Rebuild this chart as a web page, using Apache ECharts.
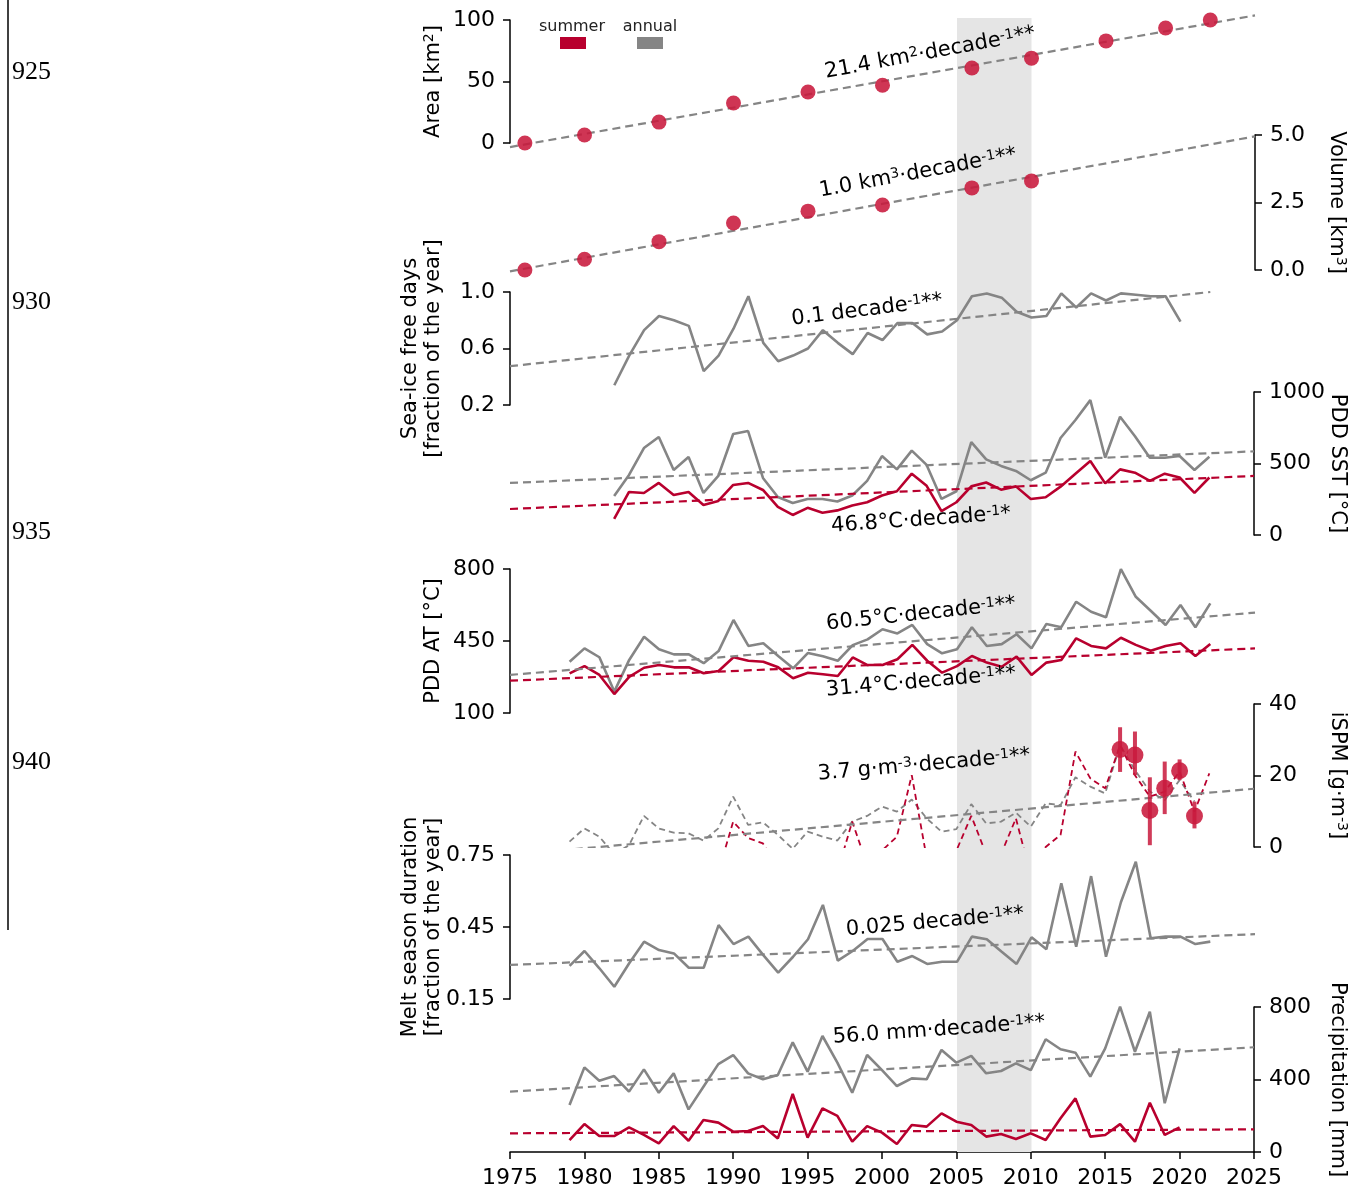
<!DOCTYPE html>
<html>
<head>
<meta charset="utf-8">
<script src="https://cdn.jsdelivr.net/npm/echarts@6/dist/echarts.min.js"></script>
<style>
  html, body { margin: 0; padding: 0; background: #fff; }
  #main { width: 1357px; height: 1194px; }
</style>
</head>
<body>
<div id="main"></div>
<script>
// ---- data ----
const range = (a, b) => Array.from({ length: b - a + 1 }, (_, i) => a + i)

const bandYears = [2005, 2010]
const trendYears = [1975, 2025]

// glacier area / volume (points)
const areaYears = [1976, 1980, 1985, 1990, 1995, 2000, 2006, 2010, 2015, 2019, 2022]
const areaKm2 = [0, 6.5, 17, 32.5, 41.5, 47, 61, 69, 83, 93.5, 100]
const areaTrend = [-3.3, 103.7]
const areaTicks = [0, 50, 100]

const volumeYears = [1976, 1980, 1985, 1990, 1995, 2000, 2006, 2010]
const volumeKm3 = [0.0, 0.4, 1.05, 1.74, 2.18, 2.41, 3.04, 3.3]
const volumeTrend = [-0.05, 4.95]
const volumeTicks = [0, 2.5, 5]

// sea-ice free days
const seaIceYears = range(1982, 2020)
const seaIceFrac = [0.34, 0.55, 0.73, 0.83, 0.80, 0.76, 0.44, 0.55, 0.74, 0.97,
  0.64, 0.51, 0.55, 0.60, 0.73, 0.64, 0.56, 0.71, 0.66, 0.78,
  0.78, 0.70, 0.72, 0.80, 0.97, 0.99, 0.96, 0.86, 0.82, 0.83,
  0.99, 0.89, 0.99, 0.94, 0.99, 0.98, 0.97, 0.97, 0.79]
const seaIceTrendYears = [1975, 2022]
const seaIceTrend = [0.475, 1.0]
const seaIceTicks = [0.2, 0.6, 1.0]

// PDD SST
const sstYears = range(1982, 2022)
const sstAnnual = [273, 420, 608, 685, 455, 545, 294, 413, 706, 727,
  399, 266, 224, 252, 252, 234, 276, 379, 552, 459,
  590, 490, 252, 306, 650, 529, 483, 448, 383, 436,
  678, 804, 943, 540, 827, 690, 540, 540, 552, 455, 547]
const sstSummer = [112, 301, 294, 364, 280, 301, 210, 238, 350, 364,
  315, 196, 140, 190, 156, 172, 206, 229, 276, 306,
  429, 344, 167, 229, 340, 367, 317, 340, 252, 264,
  338, 429, 517, 361, 459, 436, 379, 429, 402, 294, 402]
const sstAnnualTrend = [364, 585]
const sstSummerTrend = [182, 413]
const sstTicks = [0, 500, 1000]

// PDD AT
const atYears = range(1979, 2022)
const atAnnual = [349, 414, 371, 204, 358, 471, 410, 385, 385, 342,
  401, 552, 426, 439, 377, 317, 392, 376, 354, 430,
  458, 507, 487, 528, 435, 390, 410, 517, 426, 435,
  483, 414, 533, 517, 641, 592, 565, 799, 665, 597,
  528, 625, 517, 633]
const atSummer = [293, 328, 285, 192, 276, 320, 333, 322, 322, 293,
  304, 371, 354, 349, 322, 269, 296, 288, 280, 370,
  333, 333, 361, 431, 354, 296, 328, 377, 345, 325,
  374, 285, 345, 358, 463, 426, 414, 466, 431, 403,
  426, 439, 377, 435]
const atAnnualTrend = [285, 588]
const atSummerTrend = [257, 414]
const atTicks = [100, 450, 800]

// iSPM
const ispmAnnualYears = range(1979, 2021)
const ispmAnnual = [1.5, 5.2, 2.9, -2, 0.5, 8.7, 5.2, 4.0, 3.8, 1.8,
  5.2, 14.1, 6.2, 6.9, 3.4, -0.5, 4.3, 2.9, 1.8, 7.1,
  8.7, 11.3, 9.9, 13.3, 8.0, 4.3, 5.0, 12.0, 6.6, 7.1,
  9.6, 5.7, 12.2, 11.7, 19.5, 16.9, 15.0, 28.5, 21.5, 15.5,
  13.1, 18.7, 12.7]
const ispmSummerYears = range(1979, 2022)
const ispmSummer = [-6, -4, -8, -10, -5, -3, -6, -7, -8, -9,
  -7, 7.1, 2.5, 1.0, -6, -10, -5, -6, -7, 7.1,
  -5, -1, 2.9, 20.1, -3, -8, -1, 8.7, -2, -2,
  8.0, -8, 0, 3.4, 26.7, 19.2, 16.4, 28.5, 20.1, 14.1,
  15.5, 21.1, 9.9, 20.6]
const ispmObsYears = [2016, 2017, 2018, 2019, 2020, 2021]
const ispmObs = [27.3, 25.7, 10.2, 16.4, 21.3, 8.7]
const ispmObsLow = [21.0, 20.1, 0.5, 9.2, 18.7, 5.2]
const ispmObsHigh = [33.5, 32.3, 19.5, 23.9, 24.5, 12.7]
const ispmTrend = [-2.2, 16.3]
const ispmTicks = [0, 20, 40]

// melt season duration
const meltYears = range(1979, 2022)
const meltFrac = [0.288, 0.35, 0.278, 0.201, 0.299, 0.389, 0.354, 0.34, 0.28, 0.28,
  0.458, 0.379, 0.41, 0.333, 0.26, 0.326, 0.399, 0.542, 0.31, 0.35,
  0.40, 0.40, 0.305, 0.329, 0.296, 0.305, 0.305, 0.41, 0.399, 0.347,
  0.296, 0.407, 0.357, 0.632, 0.368, 0.662, 0.326, 0.553, 0.722, 0.403,
  0.41, 0.41, 0.379, 0.389]
const meltTrend = [0.292, 0.42]
const meltTicks = [0.15, 0.45, 0.75]

// precipitation
const precipYears = range(1979, 2020)
const precipAnnual = [259, 467, 393, 419, 333, 456, 327, 434, 235, 360,
  485, 535, 434, 401, 425, 605, 443, 640, 493, 327,
  535, 452, 364, 406, 401, 563, 493, 530, 434, 447,
  489, 452, 622, 567, 548, 416, 572, 802, 553, 774, 269, 572]
const precipSummer = [66, 154, 88, 88, 136, 94, 48, 143, 62, 177,
  162, 112, 116, 143, 75, 320, 79, 241, 199, 57,
  143, 107, 44, 149, 140, 213, 167, 149, 85, 99,
  72, 103, 66, 186, 296, 85, 94, 154, 57, 272, 94, 136]
const precipAnnualTrend = [333, 578]
const precipSummerTrend = [103, 125]
const precipTicks = [0, 400, 800]

// ---- styling ----
const FONT = 'DejaVu Sans'
const RED = '#b8002e'
const GREY = '#858585'
const DOT = '#c8193c'
const SUP = { fontSize: 14, fontFamily: FONT, color: '#000', fill: '#000', verticalAlign: 'top' }

const pairs = (xs, ys) => xs.map((x, i) => [x, ys[i]])

// grid 0 holds the shaded period, grids 1..8 the stacked panels
const panels = [
  { top: 18, height: 1134 },
  { top: 20, height: 123 },
  { top: 135, height: 135 },
  { top: 292, height: 113 },
  { top: 392, height: 143 },
  { top: 569, height: 144 },
  { top: 704, height: 143 },
  { top: 855, height: 144 },
  { top: 1007, height: 145 },
]

function yAxisFor(gi, pos, min, max, ticks, dec, name, gap) {
  return {
    gridIndex: gi, type: 'value', position: pos, min: min, max: max,
    axisLine: { show: true, lineStyle: { color: '#000', width: 1.5 } },
    axisTick: { show: true, length: 7, lineStyle: { color: '#000', width: 1.5 }, customValues: ticks },
    axisLabel: {
      customValues: ticks, formatter: v => v.toFixed(dec),
      fontSize: 22, color: '#000', fontFamily: FONT, margin: 15
    },
    splitLine: { show: false },
    name: name, nameLocation: 'middle', nameGap: gap, nameMoveOverlap: false,
    nameRotate: pos === 'left' ? 90 : -90,
    nameTextStyle: { fontSize: 21, color: '#000', fontFamily: FONT, lineHeight: 23,
      rich: { s: { fontSize: 14, color: '#000', fontFamily: FONT, verticalAlign: 'top' } } }
  }
}

const yAxes = [
  { gridIndex: 0, type: 'value', min: 0, max: 1, show: false },
  yAxisFor(1, 'left', 0, 100, areaTicks, 0, 'Area [km{s|2}]', 65),
  yAxisFor(2, 'right', 0, 5, volumeTicks, 1, 'Volume [km{s|3}]', 70),
  yAxisFor(3, 'left', 0.2, 1.0, seaIceTicks, 1, 'Sea-ice free days\n[fraction of the year]', 65),
  yAxisFor(4, 'right', 0, 1000, sstTicks, 0, 'PDD SST [°C]', 72),
  yAxisFor(5, 'left', 100, 800, atTicks, 0, 'PDD AT [°C]', 65),
  yAxisFor(6, 'right', 0, 40, ispmTicks, 0, 'iSPM [g·m{s|-3}]', 72),
  yAxisFor(7, 'left', 0.15, 0.75, meltTicks, 2, 'Melt season duration\n[fraction of the year]', 65),
  yAxisFor(8, 'right', 0, 800, precipTicks, 0, 'Precipitation [mm]', 72),
]

const xAxes = panels.map((p, i) => ({
  gridIndex: i, type: 'value', min: 1975, max: 2025, interval: 5,
  show: i === panels.length - 1,
  axisLine: { show: true, lineStyle: { color: '#000', width: 1.5 } },
  axisTick: { show: true, length: 7, lineStyle: { color: '#000', width: 1.5 } },
  axisLabel: { fontSize: 22, color: '#000', fontFamily: FONT, margin: 15, formatter: v => String(v) },
  splitLine: { show: false }
}))

function solid(gi, xs, ys, color) {
  return {
    type: 'line', xAxisIndex: gi, yAxisIndex: gi, data: pairs(xs, ys),
    symbol: 'none', z: 3, lineStyle: { color: color, width: 2.6 }
  }
}
function dashed(gi, xs, ys, color, width, dash, clip) {
  return {
    type: 'line', xAxisIndex: gi, yAxisIndex: gi, data: pairs(xs, ys),
    symbol: 'none', z: 3, clip: clip,
    lineStyle: { color: color, width: width, type: dash }
  }
}
function dots(gi, xs, ys, size) {
  return {
    type: 'scatter', xAxisIndex: gi, yAxisIndex: gi, data: pairs(xs, ys),
    symbolSize: size, clip: false, z: 4,
    itemStyle: { color: DOT, opacity: 0.88 }
  }
}

const series = [
  {
    type: 'line', xAxisIndex: 0, yAxisIndex: 0, data: [[bandYears[0], 0.5]],
    symbol: 'none', silent: true, z: 0, lineStyle: { opacity: 0 },
    markArea: { silent: true, itemStyle: { color: '#e5e5e5' },
      data: [[{ xAxis: bandYears[0] }, { xAxis: bandYears[1] }]] }
  },
  // area
  dashed(1, trendYears, areaTrend, GREY, 2.2, [8, 5], false),
  dots(1, areaYears, areaKm2, 15),
  // volume
  dashed(2, trendYears, volumeTrend, GREY, 2.2, [8, 5], false),
  dots(2, volumeYears, volumeKm3, 15),
  // sea-ice
  solid(3, seaIceYears, seaIceFrac, GREY),
  dashed(3, seaIceTrendYears, seaIceTrend, GREY, 2.2, [8, 5], false),
  // PDD SST
  solid(4, sstYears, sstAnnual, GREY),
  solid(4, sstYears, sstSummer, RED),
  dashed(4, trendYears, sstAnnualTrend, GREY, 2.2, [8, 5], false),
  dashed(4, trendYears, sstSummerTrend, RED, 2.2, [8, 5], false),
  // PDD AT
  solid(5, atYears, atAnnual, GREY),
  solid(5, atYears, atSummer, RED),
  dashed(5, trendYears, atAnnualTrend, GREY, 2.2, [8, 5], false),
  dashed(5, trendYears, atSummerTrend, RED, 2.2, [8, 5], false),
  // iSPM
  dashed(6, ispmAnnualYears, ispmAnnual, GREY, 1.8, [6, 4], true),
  dashed(6, ispmSummerYears, ispmSummer, RED, 1.8, [6, 4], true),
  dashed(6, trendYears, ispmTrend, GREY, 2.2, [8, 5], true),
  {
    type: 'custom', xAxisIndex: 6, yAxisIndex: 6, z: 4,
    data: ispmObsYears.map((y, i) => [y, ispmObsLow[i], ispmObsHigh[i]]),
    encode: { x: 0, y: [1, 2] },
    renderItem: function (params, api) {
      const lo = api.coord([api.value(0), api.value(1)])
      const hi = api.coord([api.value(0), api.value(2)])
      return {
        type: 'line',
        shape: { x1: lo[0], y1: lo[1], x2: hi[0], y2: hi[1] },
        style: { stroke: DOT, lineWidth: 4, opacity: 0.85 }
      }
    }
  },
  dots(6, ispmObsYears, ispmObs, 17),
  // melt season
  solid(7, meltYears, meltFrac, GREY),
  dashed(7, trendYears, meltTrend, GREY, 2.2, [8, 5], false),
  // precipitation
  solid(8, precipYears, precipAnnual, GREY),
  solid(8, precipYears, precipSummer, RED),
  dashed(8, trendYears, precipAnnualTrend, GREY, 2.2, [8, 5], false),
  dashed(8, trendYears, precipSummerTrend, RED, 2.2, [8, 5], false),
]

// ---- annotations ----
const trendLabels = [
  { text: '21.4 km{s|2}·decade{s|-1}**', x: 930, y: 53, rot: 10.5 },
  { text: '1.0 km{s|3}·decade{s|-1}**', x: 918, y: 173, rot: 10.5 },
  { text: '0.1 decade{s|-1}**', x: 867, y: 310, rot: 7 },
  { text: '46.8°C·decade{s|-1}*', x: 921, y: 520, rot: 4 },
  { text: '60.5°C·decade{s|-1}**', x: 921, y: 614, rot: 6 },
  { text: '31.4°C·decade{s|-1}**', x: 921, y: 682, rot: 5 },
  { text: '3.7 g·m{s|-3}·decade{s|-1}**', x: 924, y: 765, rot: 5 },
  { text: '0.025 decade{s|-1}**', x: 935, y: 922, rot: 5 },
  { text: '56.0 mm·decade{s|-1}**', x: 939, y: 1030, rot: 4 },
]
const lineNumbers = [
  { text: '925', y: 72 }, { text: '930', y: 302 },
  { text: '935', y: 532 }, { text: '940', y: 762 },
]

const graphic = [
  { type: 'line', shape: { x1: 8, y1: 0, x2: 8, y2: 930 }, style: { stroke: '#000', lineWidth: 1.5 } },
  ...lineNumbers.map(n => ({
    type: 'text', x: 12, y: n.y,
    style: { text: n.text, font: '26px "Liberation Serif"', fill: '#000', textAlign: 'left', textVerticalAlign: 'middle' }
  })),
  ...trendLabels.map(t => ({
    type: 'text', x: t.x, y: t.y, rotation: t.rot * Math.PI / 180, z: 10,
    style: {
      text: t.text, fontSize: 21, fontFamily: FONT, fill: '#000',
      textAlign: 'center', textVerticalAlign: 'middle', rich: { s: SUP }
    }
  })),
  // legend
  { type: 'text', x: 572, y: 27, style: { text: 'summer', font: '16px "DejaVu Sans"', fill: '#222', textAlign: 'center', textVerticalAlign: 'middle' } },
  { type: 'text', x: 650, y: 27, style: { text: 'annual', font: '16px "DejaVu Sans"', fill: '#222', textAlign: 'center', textVerticalAlign: 'middle' } },
  { type: 'rect', shape: { x: 560, y: 37, width: 26, height: 12 }, style: { fill: RED } },
  { type: 'rect', shape: { x: 637, y: 37, width: 26, height: 12 }, style: { fill: GREY } },
]

const chart = echarts.init(document.getElementById('main'))
chart.setOption({
  animation: false,
  backgroundColor: '#fff',
  textStyle: { fontFamily: FONT },
  grid: panels.map(p => ({ left: 510, width: 745, top: p.top, height: p.height })),
  xAxis: xAxes,
  yAxis: yAxes,
  series: series,
  graphic: graphic
})
</script>
</body>
</html>
